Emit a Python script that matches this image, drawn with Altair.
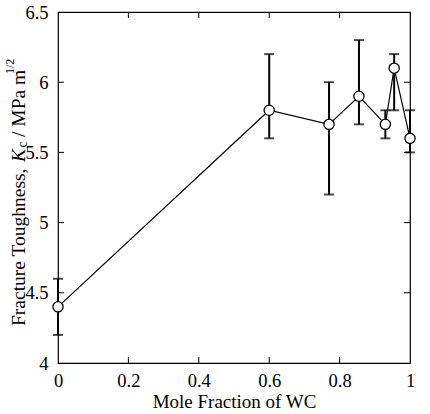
import altair as alt
import pandas as pd

# Fracture toughness versus WC mole fraction
mole_fraction = [0.0, 0.6, 0.77, 0.855, 0.93, 0.955, 1.0]
toughness = [4.4, 5.8, 5.7, 5.9, 5.7, 6.1, 5.6]
err_low = [4.2, 5.6, 5.2, 5.7, 5.6, 5.8, 5.5]
err_high = [4.6, 6.2, 6.0, 6.3, 5.8, 6.2, 5.8]

x_ticks = [0.2, 0.4, 0.6, 0.8]
y_ticks = [4.5, 5.0, 5.5, 6.0]

W, H = 352, 351
FONT = "Liberation Serif"
TICK = 6

df = pd.DataFrame({"x": mole_fraction, "y": toughness, "lo": err_low, "hi": err_high})

xscale = alt.Scale(domain=[0, 1], nice=False, zero=False)
yscale = alt.Scale(domain=[4, 6.5], nice=False, zero=False)

xaxis = alt.Axis(values=[0, 0.2, 0.4, 0.6, 0.8, 1.0], format="~g", labelPadding=8,
                 labelBaseline="top", title="Mole Fraction of WC", titlePadding=3)
yaxis = alt.Axis(values=[4, 4.5, 5, 5.5, 6, 6.5], format="~g", labelPadding=10, title=None)

base = alt.Chart(df)

line = base.mark_line(color="black", strokeWidth=1.2).encode(
    x=alt.X("x:Q", scale=xscale, axis=xaxis),
    y=alt.Y("y:Q", scale=yscale, axis=yaxis),
)

bars = base.mark_rule(color="black", strokeWidth=2).encode(
    x="x:Q", y="lo:Q", y2="hi:Q"
)
cap_lo = base.mark_tick(color="black", orient="horizontal", size=10, thickness=2).encode(
    x="x:Q", y="lo:Q"
)
cap_hi = base.mark_tick(color="black", orient="horizontal", size=10, thickness=2).encode(
    x="x:Q", y="hi:Q"
)

points = base.mark_point(shape="circle", filled=True, fill="white", stroke="black",
                         strokeWidth=1.3, size=105, opacity=1).encode(
    x="x:Q", y="y:Q"
)

# inward ticks on all four sides
xt = pd.DataFrame({"t": x_ticks})
yt = pd.DataFrame({"t": y_ticks})
tick_bottom = alt.Chart(xt).mark_rule(color="black", strokeWidth=1).encode(
    x="t:Q", y=alt.value(H), y2=alt.value(H - TICK))
tick_top = alt.Chart(xt).mark_rule(color="black", strokeWidth=1).encode(
    x="t:Q", y=alt.value(0), y2=alt.value(TICK))
tick_left = alt.Chart(yt).mark_rule(color="black", strokeWidth=1).encode(
    y="t:Q", x=alt.value(0), x2=alt.value(TICK))
tick_right = alt.Chart(yt).mark_rule(color="black", strokeWidth=1).encode(
    y="t:Q", x=alt.value(W), x2=alt.value(W - TICK))

# rotated y-axis title with italic K, subscript c and superscript 1/2
TX = -33
def title_piece(text, ypos, xpos=TX, size=19.5, style="normal"):
    return alt.Chart(pd.DataFrame({"s": [text]})).mark_text(
        angle=270, align="left", baseline="alphabetic", font=FONT, fontSize=size,
        fontStyle=style, color="black"
    ).encode(text="s:N", x=alt.value(xpos), y=alt.value(ypos))

title_parts = [
    title_piece("Fracture Toughness,", 314),
    title_piece("K", 149.9, style="italic"),
    title_piece("c", 135.5, xpos=TX + 2, size=14),
    title_piece("/ MPa m", 125),
    title_piece("1/2", 62, xpos=TX - 11, size=12),
]

chart = alt.layer(
    line, bars, cap_lo, cap_hi, points,
    tick_bottom, tick_top, tick_left, tick_right,
    *title_parts,
).properties(
    width=W, height=H,
    autosize=alt.AutoSizeParams(type="none"),
    padding={"left": 58, "top": 12, "right": 20, "bottom": 51},
    background="white",
).configure(
    font=FONT
).configure_axis(
    ticks=False, tickSize=0, domain=False, grid=False, labelFlush=False,
    labelFont=FONT, labelFontSize=18.5, labelColor="black",
    titleFont=FONT, titleFontSize=19, titleFontWeight="normal", titleColor="black",
).configure_view(stroke="black", strokeWidth=1.2)

chart.save("out.html", embed_options={"renderer": "svg", "actions": False})
